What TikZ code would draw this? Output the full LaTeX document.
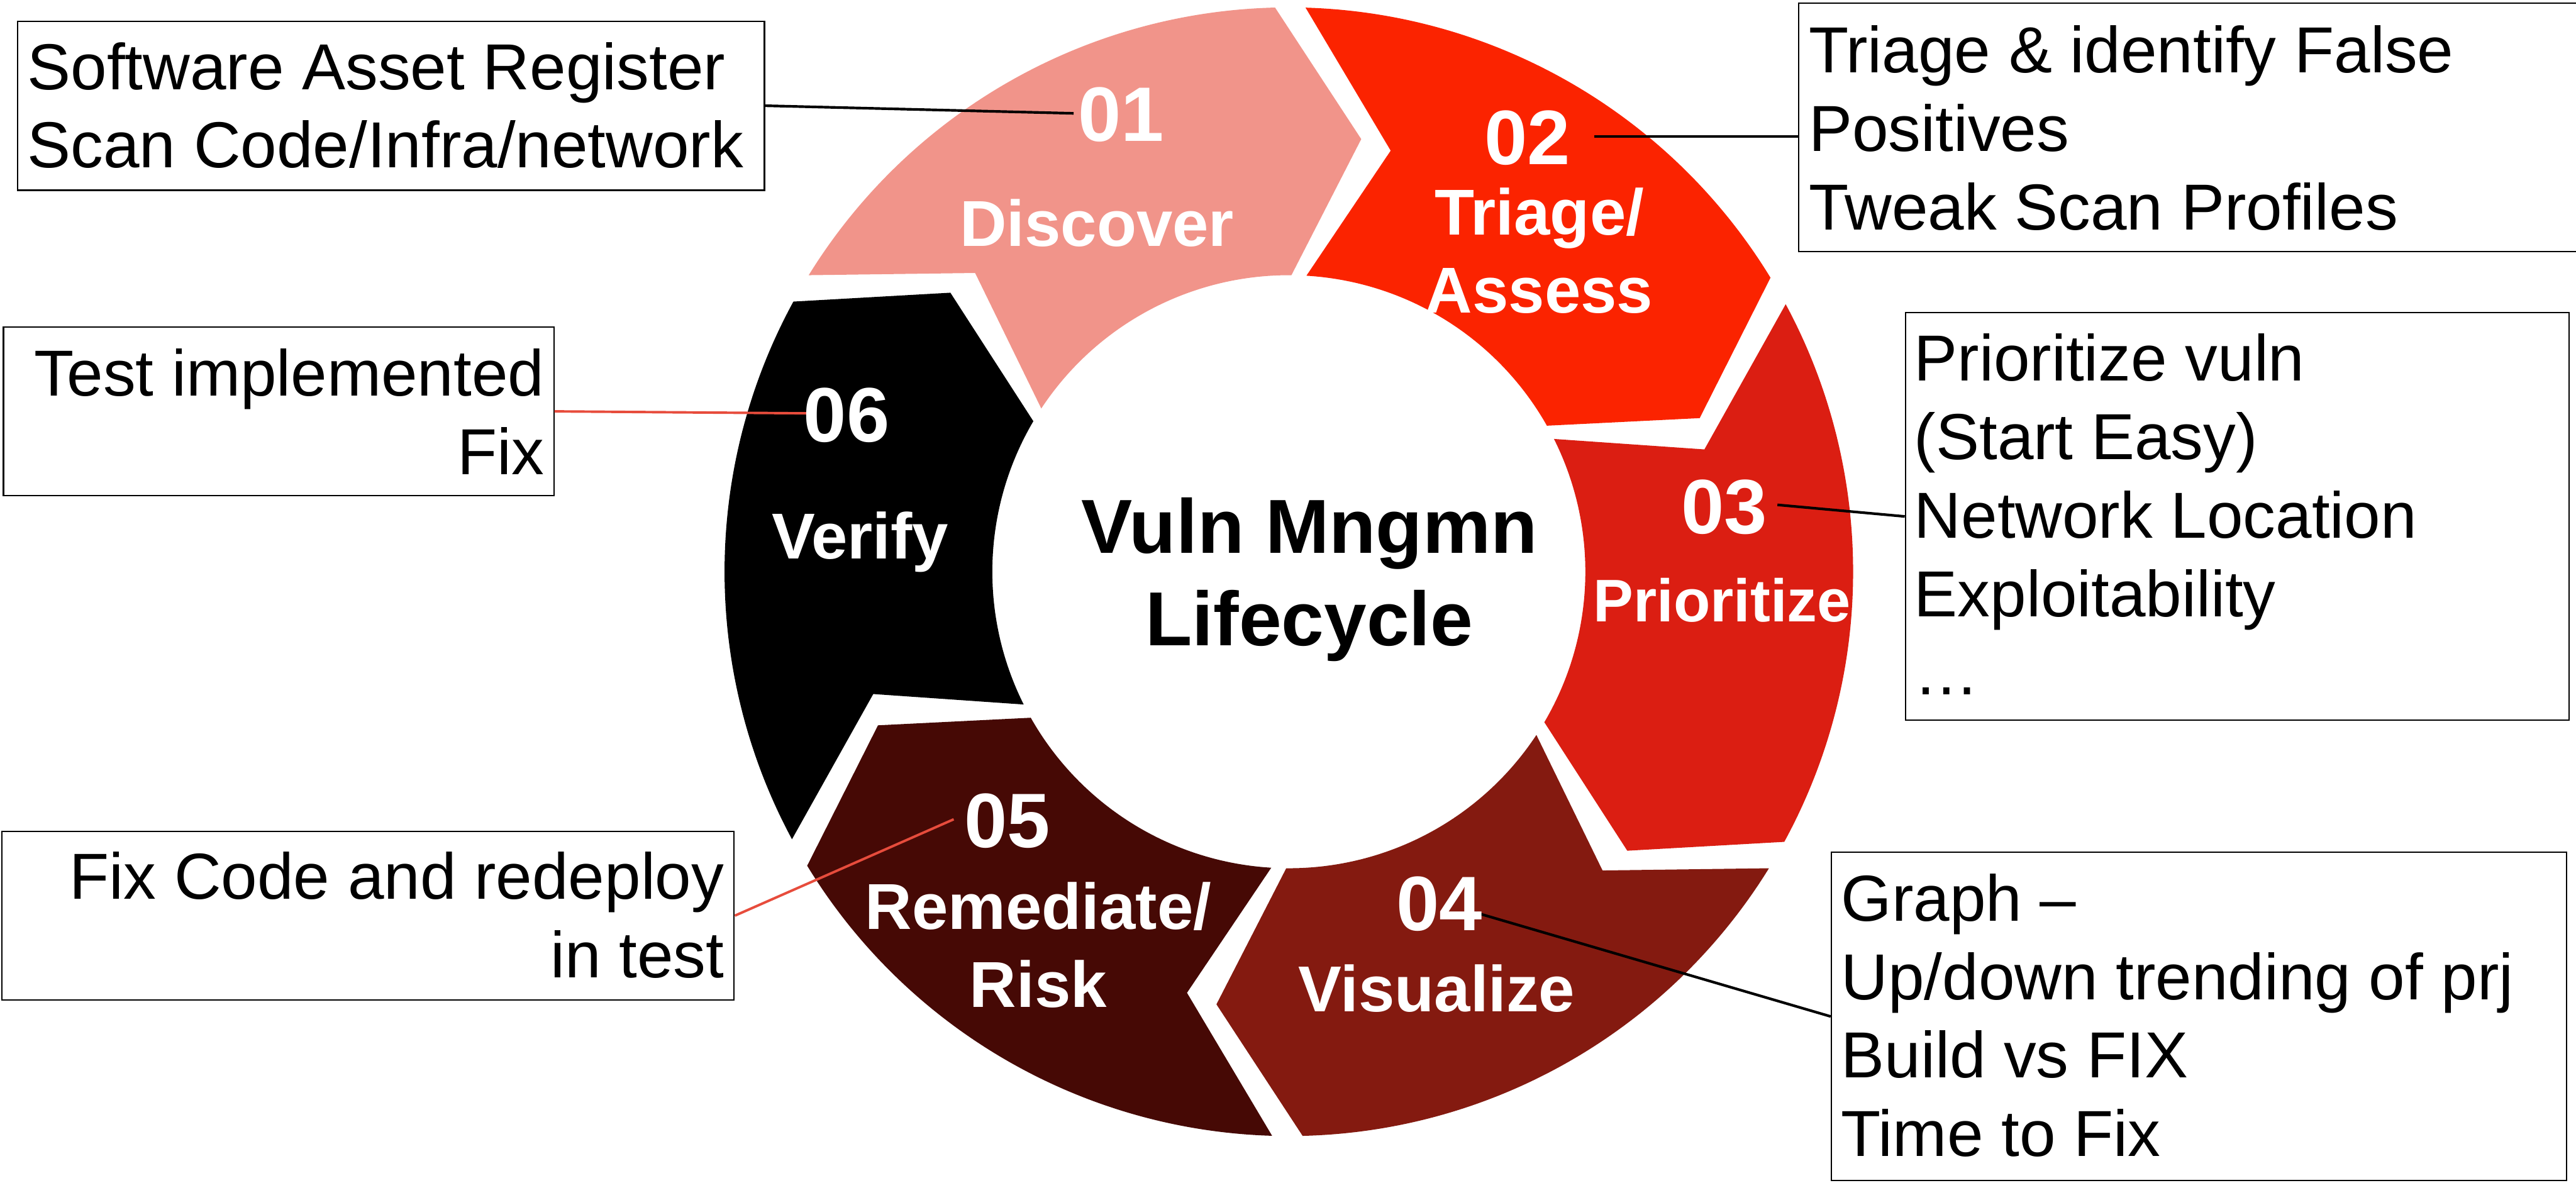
\documentclass[tikz,border=0pt]{standalone}
\usepackage{fontspec}
\setmainfont{Liberation Sans}
\usetikzlibrary{calc}

% ring segment colours
\definecolor{segdiscover}{RGB}{241,148,138}
\definecolor{segtriage}{RGB}{251,35,0}
\definecolor{segprio}{RGB}{219,30,18}
\definecolor{segvis}{RGB}{132,26,16}
\definecolor{segremed}{RGB}{70,9,5}
\definecolor{segverify}{RGB}{0,0,0}
\definecolor{leadred}{RGB}{231,76,60}

\tikzset{
  segnum/.style={text=white, font=\bfseries\fontsize{47}{56}\selectfont, anchor=base, inner sep=0pt},
  seglabel/.style={text=white, font=\bfseries\fontsize{39.5}{47.4}\selectfont, anchor=base, inner sep=0pt},
  centertitle/.style={text=black, font=\bfseries\fontsize{46.6}{56.5}\selectfont, anchor=base, inner sep=0pt},
  notebox/.style={draw=black, line width=0.8pt, fill=white, inner sep=0pt, anchor=north west},
  notetext/.style={text=black, font=\fontsize{39.6}{47.8}\selectfont, inner sep=0pt},
  leaderdark/.style={draw=black, line width=1.6pt},
  leaderred/.style={draw=leadred, line width=1.5pt},
}

\begin{document}
\begin{tikzpicture}[x=1pt,y=1pt]
\useasboundingbox (0,0) rectangle (1568,720);
\fill[white] (0,0) rectangle (1568,720);

% six arrow-shaped ring segments, running clockwise
\begin{scope}[shift={(784.5,372)}]
  \foreach \b/\col in {120/segdiscover, 60/segtriage, 0/segprio, -60/segvis, -120/segremed, -180/segverify}{
    \fill[\col] (\b+28.3:343.5)
      arc[start angle=\b+28.3, end angle=\b-28.6, radius=343.5]
      -- (\b-39.5:267)
      -- (\b-30.5:180.5)
      arc[start angle=\b-30.5, end angle=\b+26.6, radius=180.5]
      -- (\b+16.4:263.7) -- cycle;
  }
\end{scope}

% note boxes
\node[notebox, minimum width=454.7, minimum height=102.9] (b1) at (10.2,707.5) {};
\node[notebox, minimum width=474.6, minimum height=151.2] (b2) at (1094.4,718.6) {};
\node[notebox, minimum width=404, minimum height=248.1] (b3) at (1159.4,530.1) {};
\node[notebox, minimum width=447.4, minimum height=200] (b4) at (1114.3,201.7) {};
\node[notebox, minimum width=335, minimum height=102.6] (b5) at (1.7,521.3) {};
\node[notebox, minimum width=445.7, minimum height=102.7] (b6) at (0.8,214.4) {};

% leader end points next to the step numbers
\coordinate (p1) at (653.5,651);
\coordinate (p2) at (970.3,636.9);
\coordinate (p3) at (1081.9,412.7);
\coordinate (p4) at (898.3,164.5);
\coordinate (p5) at (580.5,221.3);
\coordinate (p6) at (492.8,468.4);

\draw[leaderdark] (b1.east) -- (p1);
\draw[leaderdark] (p2) -- (p2 -| b2.west);
\draw[leaderdark] (b3.west) -- (p3);
\draw[leaderdark] (b4.west) -- (p4);
\draw[leaderred] (b6.east) -- (p5);
\draw[leaderred] (b5.east) -- (p6);

% note texts
\node[notetext, anchor=base west] (t1) at (16.5,665.6)
  {\begin{tabular}[t]{@{}l@{}}Software Asset Register\\Scan Code/Infra/network\end{tabular}};
\node[notetext, anchor=base west] (t2) at (1100.8,675.8)
  {\begin{tabular}[t]{@{}l@{}}Triage \& identify False\\Positives\\Tweak Scan Profiles\end{tabular}};
\node[notetext, anchor=base west] (t3) at (1165,488.2)
  {\begin{tabular}[t]{@{}l@{}}Prioritize vuln\\(Start Easy)\\Network Location\\Exploitability\\\dots\end{tabular}};
\node[notetext, anchor=base west] (t4) at (1120.5,159.5)
  {\begin{tabular}[t]{@{}l@{}}Graph \textendash\\Up/down trending of prj\\Build vs FIX\\Time to Fix\end{tabular}};
\node[notetext, anchor=base east] (t5) at (331.5,478.9)
  {\begin{tabular}[t]{@{}r@{}}Test implemented\\Fix\end{tabular}};
\node[notetext, anchor=base east] (t6) at (441,172.6)
  {\begin{tabular}[t]{@{}r@{}}Fix Code and redeploy\\in test\end{tabular}};

% step numbers and names
\node[segnum] (n1) at (682.5,634.2) {01};
\node[seglabel] (l1) at (667.7,570) {Discover};
\node[segnum] (n2) at (929.8,619.9) {02};
\node[seglabel] (l2) at (937,577) {\begin{tabular}[t]{@{}c@{}}Triage/\\Assess\end{tabular}};
\node[segnum] (n3) at (1049.5,395.3) {03};
\node[seglabel, font=\bfseries\fontsize{36.6}{44}\selectfont] (l3) at (1048.2,341.4) {Prioritize};
\node[segnum] (n4) at (876.2,153.7) {04};
\node[seglabel] (l4) at (874.5,104.2) {Visualize};
\node[segnum] (n5) at (613.1,204.3) {05};
\node[seglabel] (l5) at (632,154.3) {\begin{tabular}[t]{@{}c@{}}Remediate/\\Risk\end{tabular}};
\node[segnum] (n6) at (515.3,451) {06};
\node[seglabel] (l6) at (523.6,379.8) {Verify};

% hub title
\node[centertitle] (hub) at (797,383.4) {\begin{tabular}[t]{@{}c@{}}Vuln Mngmn\\Lifecycle\end{tabular}};
\end{tikzpicture}
\end{document}
